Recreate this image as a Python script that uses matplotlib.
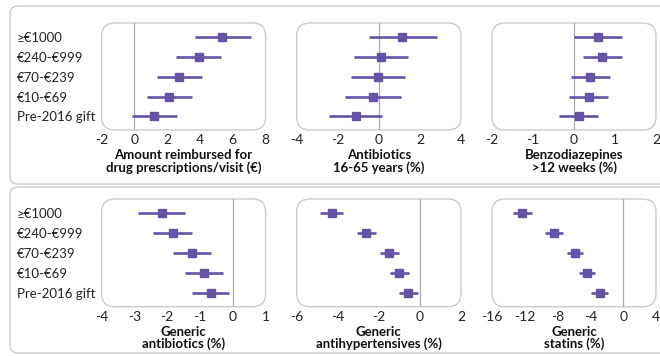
import matplotlib
matplotlib.use('Agg')
import matplotlib.pyplot as plt
from matplotlib.patches import FancyBboxPatch

plt.rcParams['font.family'] = ['Lato', 'DejaVu Sans']

groups = ['≥€1000', '€240-€999', '€70-€239', '€10-€69', 'Pre-2016 gift']

# estimate, lower CI, upper CI (top-to-bottom order of groups)
reimb_est = [5.35, 3.92, 2.75, 2.14, 1.20]
reimb_lo = [3.67, 2.53, 1.39, 0.76, -0.12]
reimb_hi = [7.08, 5.28, 4.12, 3.53, 2.59]

abx_est = [1.15, 0.10, -0.02, -0.28, -1.10]
abx_lo = [-0.47, -1.20, -1.35, -1.63, -2.45]
abx_hi = [2.81, 1.41, 1.28, 1.06, 0.15]

benzo_est = [0.58, 0.69, 0.40, 0.36, 0.11]
benzo_lo = [0.01, 0.21, -0.07, -0.12, -0.36]
benzo_hi = [1.17, 1.16, 0.89, 0.83, 0.58]

gen_abx_est = [-2.17, -1.82, -1.25, -0.88, -0.67]
gen_abx_lo = [-2.89, -2.43, -1.83, -1.47, -1.25]
gen_abx_hi = [-1.46, -1.25, -0.65, -0.29, -0.11]

gen_ht_est = [-4.27, -2.61, -1.50, -1.00, -0.59]
gen_ht_lo = [-4.85, -3.08, -1.94, -1.45, -1.04]
gen_ht_hi = [-3.73, -2.12, -1.04, -0.55, -0.11]

gen_stat_est = [-12.4, -8.5, -5.9, -4.4, -2.8]
gen_stat_lo = [-13.5, -9.5, -6.9, -5.4, -3.9]
gen_stat_hi = [-11.1, -7.4, -4.9, -3.4, -1.8]

panels = [
    ('Amount reimbursed for\ndrug prescriptions/visit (€)', reimb_est, reimb_lo, reimb_hi, (-2, 8), [-2, 0, 2, 4, 6, 8]),
    ('Antibiotics\n16-65 years (%)', abx_est, abx_lo, abx_hi, (-4, 4), [-4, -2, 0, 2, 4]),
    ('Benzodiazepines\n>12 weeks (%)', benzo_est, benzo_lo, benzo_hi, (-2, 2), [-2, -1, 0, 1, 2]),
    ('Generic\nantibiotics (%)', gen_abx_est, gen_abx_lo, gen_abx_hi, (-4, 1), [-4, -3, -2, -1, 0, 1]),
    ('Generic\nantihypertensives (%)', gen_ht_est, gen_ht_lo, gen_ht_hi, (-6, 2), [-6, -4, -2, 0, 2]),
    ('Generic\nstatins (%)', gen_stat_est, gen_stat_lo, gen_stat_hi, (-16, 4), [-16, -12, -8, -4, 0, 4]),
]

W, H = 660, 356
fig = plt.figure(figsize=(W / 100, H / 100), dpi=100)
fig.patch.set_facecolor('white')

purple = '#6553a6'
frame = '#cccccc'

# outer panel frames (pixel layout)
for top, bot in [(6, 184), (187, 353)]:
    fig.patches.append(FancyBboxPatch((10 / W, 1 - bot / H), (680 - 10) / W, (bot - top) / H,
                                      boxstyle='round,pad=0,rounding_size=0.012',
                                      mutation_aspect=W / H, transform=fig.transFigure,
                                      fc='none', ec=frame, lw=1.0, zorder=0))

lefts = [101.6, 296.7, 492.0]
widths = [164.0, 164.3, 164.0]
rows = [(23, 130), (199, 306.7)]

pos = list(range(len(groups)))
for i, (label, est, lo, hi, xl, ticks) in enumerate(panels):
    r, c = divmod(i, 3)
    top, bot = rows[r]
    ax = fig.add_axes([lefts[c] / W, 1 - bot / H, widths[c] / W, (bot - top) / H])
    ax.set_zorder(2)
    ax.set_facecolor('none')
    for s in ax.spines.values():
        s.set_visible(False)
    bp = ax.get_position()
    fig.patches.append(FancyBboxPatch((bp.x0, bp.y0), bp.width, bp.height,
                                      boxstyle='round,pad=0,rounding_size=0.02',
                                      mutation_aspect=W / H, transform=fig.transFigure,
                                      fc='white', ec=frame, lw=1.0, zorder=0.5))
    ax.axvline(0, color='#ababab', lw=0.9, zorder=1)
    ax.hlines(pos, lo, hi, color=purple, lw=1.9, zorder=2)
    ax.plot(est, pos, 's', color=purple, ms=6, zorder=3)
    ax.set_xlim(*xl)
    ax.set_xticks(ticks)
    ax.set_xticklabels([str(t) for t in ticks])
    ax.set_ylim(4.69, -0.72)
    ax.tick_params(axis='x', length=0, pad=3, labelsize=10, colors='#222222')
    if c == 0:
        ax.set_yticks(pos)
        ax.set_yticklabels(groups)
        ax.tick_params(axis='y', length=0, pad=61, labelsize=9.5, colors='#222222')
        for t in ax.get_yticklabels():
            t.set_horizontalalignment('left')
    else:
        ax.set_yticks([])
    ax.set_xlabel(label, fontsize=9.5, fontweight='bold', labelpad=2, linespacing=1.0, color='#111111')

fig.savefig('out.png', dpi=100, facecolor='white')
